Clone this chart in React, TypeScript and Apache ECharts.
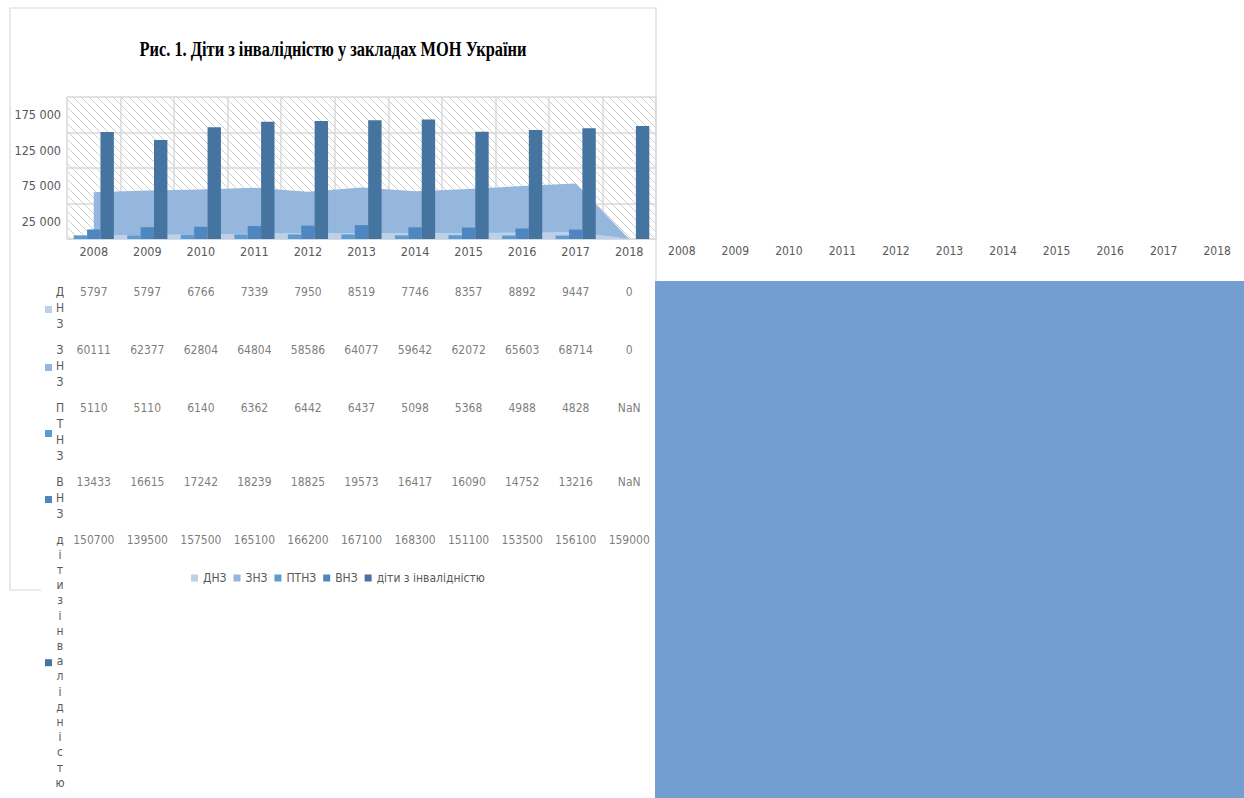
import React, { useEffect, useRef } from 'react';
import * as echarts from 'echarts';

const years = ['2008', '2009', '2010', '2011', '2012', '2013', '2014', '2015', '2016', '2017', '2018'];
const dnz = [5797, 5797, 6766, 7339, 7950, 8519, 7746, 8357, 8892, 9447, 0];
const znz = [60111, 62377, 62804, 64804, 58586, 64077, 59642, 62072, 65603, 68714, 0];
const ptnz = [5110, 5110, 6140, 6362, 6442, 6437, 5098, 5368, 4988, 4828, NaN];
const vnz = [13433, 16615, 17242, 18239, 18825, 19573, 16417, 16090, 14752, 13216, NaN];
const kids = [150700, 139500, 157500, 165100, 166200, 167100, 168300, 151100, 153500, 156100, 159000];
const seriesNames = ['ДНЗ', 'ЗНЗ', 'ПТНЗ', 'ВНЗ', 'діти з інвалідністю'];
const seriesColors = ['#bcd0ea', '#95b6dd', '#5b9bd5', '#4e86c1', '#44749f'];
const titleText = 'Рис. 1. Діти з інвалідністю у закладах МОН України';

const NARROW = '"Liberation Sans Narrow", "DejaVu Sans Condensed", "Roboto", sans-serif';
const GRAY = '#595959';
const LINE = '#d9d9d9';

function makeHatch() {
  const c = document.createElement('canvas');
  c.width = 8;
  c.height = 8;
  const ctx = c.getContext('2d')!;
  ctx.strokeStyle = '#d0d0d0';
  ctx.lineWidth = 1;
  ctx.beginPath();
  ctx.moveTo(-2, -2); ctx.lineTo(10, 10);
  ctx.moveTo(-2, 6); ctx.lineTo(2, 10);
  ctx.moveTo(6, -2); ctx.lineTo(10, 2);
  ctx.stroke();
  return c;
}

export default function App() {
  const ref = useRef<HTMLDivElement>(null);
  useEffect(() => {
    const chart = echarts.init(ref.current!, undefined, { renderer: 'svg' });
    const rows = [dnz, znz, ptnz, vnz, kids];
    const tableTop = 284;
    const tableH = 798 - tableTop;
    const rowChars = seriesNames.map((n) => n.replace(/\s/g, '').split(''));
    const rowTops: number[] = [];
    let acc = 0;
    rowChars.forEach((ch) => {
      rowTops.push(acc);
      acc += ch.length * 16 + 10;
    });

    const graphics: any[] = [
      {
        type: 'rect', z: -1, silent: true,
        shape: { x: 67, y: 97, width: 589, height: 142 },
        style: { fill: { image: makeHatch(), repeat: 'repeat', imageWidth: 8, imageHeight: 8 } as any },
      },
      {
        type: 'polyline', silent: true,
        shape: { points: [[41, 590], [10, 590], [10, 8], [656, 8], [656, 281]] },
        style: { stroke: LINE, lineWidth: 1.2, fill: null },
      },
      {
        type: 'text', x: 333, y: 49, scaleX: 0.82,
        style: { text: titleText, fontFamily: '"Liberation Serif", serif', fontWeight: 'bold', fontSize: 20, fill: '#000', align: 'center', verticalAlign: 'middle' },
      },
    ];
    rowChars.forEach((ch, r) => {
      const top = tableTop + rowTops[r];
      const lh = top + ch.length * 16 > 790 ? 15.2 : 16;
      graphics.push({
        type: 'text', x: 60, y: top,
        style: { text: ch.join('\n'), fontFamily: NARROW, fontSize: 12, lineHeight: lh, fill: GRAY, align: 'center', verticalAlign: 'top' },
      });
      graphics.push({
        type: 'rect',
        shape: { x: 45, y: top + (ch.length * lh) / 2 - 2, width: 7, height: 7 },
        style: { fill: seriesColors[r] },
      });
    });

    const tableSeries = rows.map((vals, r) => ({
      name: 'table ' + seriesNames[r],
      type: 'scatter',
      xAxisIndex: 1,
      yAxisIndex: 2,
      symbolSize: 1,
      itemStyle: { color: 'rgba(0,0,0,0)' },
      silent: true,
      label: { show: true, position: 'inside', formatter: '{b}', color: GRAY, fontSize: 12, fontFamily: NARROW },
      data: vals.map((v, i) => ({ name: String(v), value: [i, rowTops[r] + 8] })),
    }));

    const fmt = (v: number) => String(v).replace(/\B(?=(\d{3})+(?!\d))/g, ' ');

    chart.setOption({
      animation: false,
      grid: [
        { left: 67, top: 97, width: 589, height: 142 },
        { left: 67, top: tableTop, width: 589, height: tableH },
        { left: 655, top: 281, width: 589, height: 517, show: true, backgroundColor: '#729fcf', borderWidth: 0 },
      ],
      legend: {
        data: seriesNames, icon: 'rect', itemWidth: 7, itemHeight: 7, itemGap: 7,
        left: 186, top: 567,
        textStyle: { color: GRAY, fontSize: 12, fontFamily: NARROW },
      },
      xAxis: [
        {
          gridIndex: 0, type: 'category', data: years,
          axisLine: { lineStyle: { color: LINE } }, axisTick: { show: false },
          axisLabel: { color: GRAY, fontSize: 12.5, fontFamily: NARROW, margin: 6 },
          splitLine: { show: true, interval: 0, lineStyle: { color: LINE, width: 1.5 } },
        },
        { gridIndex: 1, type: 'category', data: years, show: false },
        {
          gridIndex: 2, type: 'category', data: years, position: 'top',
          axisLine: { show: false }, axisTick: { show: false },
          axisLabel: { color: GRAY, fontSize: 12, fontFamily: NARROW, margin: 24 },
        },
      ],
      yAxis: [
        {
          gridIndex: 0, type: 'value', min: 0, max: 200000, interval: 25000,
          axisLine: { show: false }, axisTick: { show: false }, splitLine: { show: false },
          axisLabel: { color: GRAY, fontSize: 12.5, fontFamily: NARROW, margin: 6, formatter: (v: number) => (v % 50000 === 0 ? '' : fmt(v)) },
        },
        {
          gridIndex: 0, type: 'value', min: 0, max: 200000, interval: 50000,
          axisLine: { show: false }, axisTick: { show: false }, axisLabel: { show: false },
          splitLine: { show: true, lineStyle: { color: LINE, width: 1.5 } },
        },
        { gridIndex: 1, type: 'value', min: 0, max: tableH, inverse: true, show: false },
        { gridIndex: 2, type: 'value', min: 0, max: 1, show: false },
      ],
      series: [
        {
          name: seriesNames[0], type: 'line', stack: 'area', data: dnz, symbol: 'none', z: 1,
          itemStyle: { color: seriesColors[0] }, lineStyle: { width: 0 },
          areaStyle: { color: seriesColors[0], opacity: 1 },
        },
        {
          name: seriesNames[1], type: 'line', stack: 'area', data: znz, symbol: 'none', z: 1,
          itemStyle: { color: seriesColors[1] }, lineStyle: { width: 0 },
          areaStyle: { color: seriesColors[1], opacity: 1 },
        },
        { name: seriesNames[2], type: 'bar', z: 3, data: ptnz.map((v) => (isNaN(v) ? '-' : v)), itemStyle: { color: seriesColors[2] }, barGap: '0%', barCategoryGap: '25%' },
        { name: seriesNames[3], type: 'bar', z: 3, data: vnz.map((v) => (isNaN(v) ? '-' : v)), itemStyle: { color: seriesColors[3] }, barGap: '0%', barCategoryGap: '25%' },
        { name: seriesNames[4], type: 'bar', z: 3, data: kids, itemStyle: { color: seriesColors[4] }, barGap: '0%', barCategoryGap: '25%' },
        ...tableSeries,
      ],
      graphic: graphics,
    } as any);
    return () => chart.dispose();
  }, []);
  return <div ref={ref} style={{ position: 'fixed', left: 0, top: 0, width: 1244, height: 798, background: '#fff' }} />;
}
